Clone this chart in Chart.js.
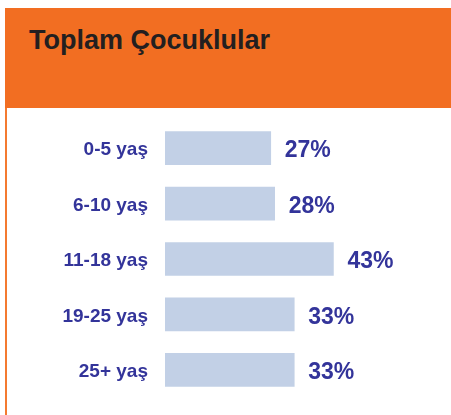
<!DOCTYPE html>
<html lang="tr">
<head>
    <meta charset="UTF-8">
    <title>Toplam Çocuklular</title>
    <script src="https://cdn.jsdelivr.net/npm/chart.js"></script>
    <style>
        body { margin: 0; width: 451px; height: 415px; background: #fff; overflow: hidden; font-family: "Liberation Sans", Arial, sans-serif; position: relative; }
        .header { position: absolute; left: 5px; top: 8px; width: 446px; height: 100px; background: #f26e22; }
        .header h1 { position: absolute; left: 24px; top: 19px; margin: 0; font-size: 27px; line-height: 27px; font-weight: bold; color: #231f20; }
        .side { position: absolute; left: 5px; top: 108px; width: 2px; height: 307px; background: #f47a30; }
        /* canvas starts above the first bar: the y axis keeps half a label height free at top and bottom */
        #ageChart { position: absolute; left: 0; top: 109px; }
    </style>
</head>
<body>
    <div class="header"><h1>Toplam Çocuklular</h1></div>
    <div class="side"></div>
    <canvas id="ageChart" width="400" height="300"></canvas>

    <script>
        const ageGroups = ['0-5 yaş', '6-10 yaş', '11-18 yaş', '19-25 yaş', '25+ yaş'];
        const shares = [27, 28, 43, 33, 33];

        const textColor = '#33349a';

        // value labels to the right of each bar
        const valueLabels = {
            id: 'valueLabels',
            afterDatasetsDraw(chart) {
                const ctx = chart.ctx;
                ctx.save();
                ctx.font = 'bold 23px "Liberation Sans", Arial, sans-serif';
                ctx.fillStyle = textColor;
                ctx.textAlign = 'left';
                ctx.textBaseline = 'middle';
                chart.getDatasetMeta(0).data.forEach((bar, i) => {
                    ctx.fillText(shares[i] + '%', bar.x + 14, bar.y + 3);
                });
                ctx.restore();
            }
        };

        new Chart(document.getElementById('ageChart'), {
            type: 'bar',
            data: {
                labels: ageGroups,
                datasets: [{
                    data: shares,
                    backgroundColor: '#c2d0e6',
                    barThickness: 33
                }]
            },
            options: {
                indexAxis: 'y',
                responsive: false,
                animation: false,
                layout: { padding: 0 },
                plugins: {
                    legend: { display: false },
                    tooltip: { enabled: false }
                },
                scales: {
                    x: { display: false, min: 0, max: 60 },
                    y: {
                        grid: { display: false, drawTicks: true, tickLength: 17 },
                        border: { display: false },
                        afterFit(scale) { scale.width = 165; },
                        ticks: {
                            color: textColor,
                            padding: 0,
                            labelOffset: 2,
                            font: { family: '"Liberation Sans", Arial, sans-serif', size: 19, weight: 'bold' }
                        }
                    }
                }
            },
            plugins: [valueLabels]
        });
    </script>
</body>
</html>
